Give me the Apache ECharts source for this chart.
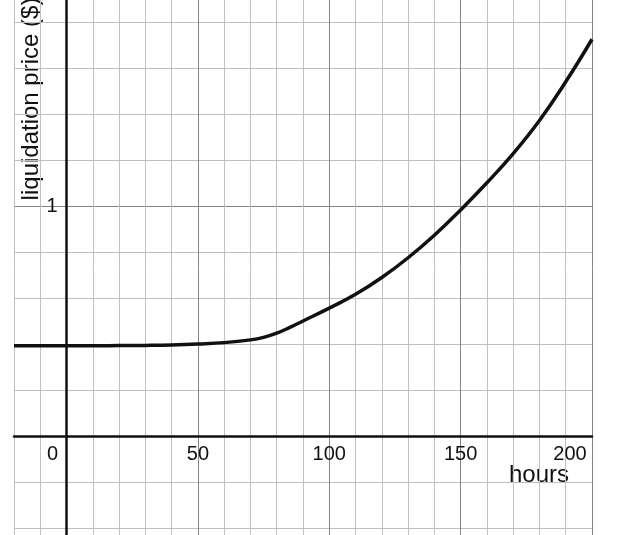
<!DOCTYPE html>
<html>
<head>
<meta charset="utf-8">
<script src="https://cdn.jsdelivr.net/npm/echarts@6/dist/echarts.min.js"></script>
<style>
html,body{margin:0;padding:0;background:#fff;}
#c{width:640px;height:535px;}
</style>
</head>
<body>
<div id="c"></div>
<script>
var hours = [-20,-10,0,10,20,30,40,50,60,70,75,80,85,90,100,110,120,130,140,150,160,170,180,190,200];
var price = [0.392,0.392,0.392,0.392,0.393,0.394,0.396,0.400,0.406,0.418,0.429,0.447,0.472,0.500,0.556,0.616,0.689,0.775,0.873,0.983,1.101,1.228,1.372,1.540,1.725];
var xTickLabels = [0,50,100,150,200];
var yTickLabels = [1];
var xName = 'hours';
var yName = 'liquidation price ($)';

var FONT = 'Liberation Sans, Arial, sans-serif';
var minor = '#c0c0c0', major = '#858585';

var chart = echarts.init(document.getElementById('c'), null, {renderer:'canvas'});
chart.setOption({
  animation:false,
  backgroundColor:'#fff',
  grid:{left:14, right:48, top:-24, bottom:-39, containLabel:false, outerBoundsMode:'none'},
  xAxis:{
    type:'value', min:-20, max:200, interval:10, position:'bottom', offset:-138,
    axisLine:{onZero:false, lineStyle:{color:'#111', width:2.5}},
    axisTick:{show:false},
    splitLine:{show:true, lineStyle:{color:[minor,minor,major,minor,minor], width:1}},
    axisLabel:{
      showMinLabel:true, showMaxLabel:true, margin:8,
      fontFamily:FONT, fontSize:20, color:'#111',
      formatter:function(v){
        if (xTickLabels.indexOf(v) < 0) return '';
        if (v === 0) return '{z|0}';
        if (v === 200) return '{m|200}';
        return String(v);
      },
      rich:{
        z:{fontFamily:FONT, fontSize:20, color:'#111', padding:[0,28,0,0]},
        m:{fontFamily:FONT, fontSize:20, color:'#111', padding:[0,44,0,0]}
      }
    }
  },
  yAxis:{
    type:'value', min:-0.6, max:2.0, interval:0.2, position:'left', offset:-52.5,
    axisLine:{onZero:false, lineStyle:{color:'#111', width:2.5}},
    axisTick:{show:false},
    splitLine:{show:true, lineStyle:{color:[minor,minor,minor,major,minor], width:1}},
    axisLabel:{
      margin:9, fontFamily:FONT, fontSize:20, color:'#111',
      formatter:function(v){
        for (var i=0;i<yTickLabels.length;i++){ if (Math.abs(v-yTickLabels[i])<1e-9) return String(yTickLabels[i]); }
        return '';
      }
    }
  },
  series:[{
    type:'line',
    data:hours.map(function(h,i){return [h, price[i]];}),
    smooth:0.45,
    showSymbol:false,
    lineStyle:{color:'#111', width:3.5},
    z:5
  }],
  graphic:[
    {type:'text', x:539, y:475, style:{text:xName, fontFamily:FONT, fontSize:24, fill:'#111', textAlign:'center', textVerticalAlign:'middle'}},
    {type:'text', x:31, y:99, rotation:Math.PI/2, style:{text:yName, fontFamily:FONT, fontSize:24, fill:'#111', textAlign:'center', textVerticalAlign:'middle'}}
  ]
});
</script>
</body>
</html>
